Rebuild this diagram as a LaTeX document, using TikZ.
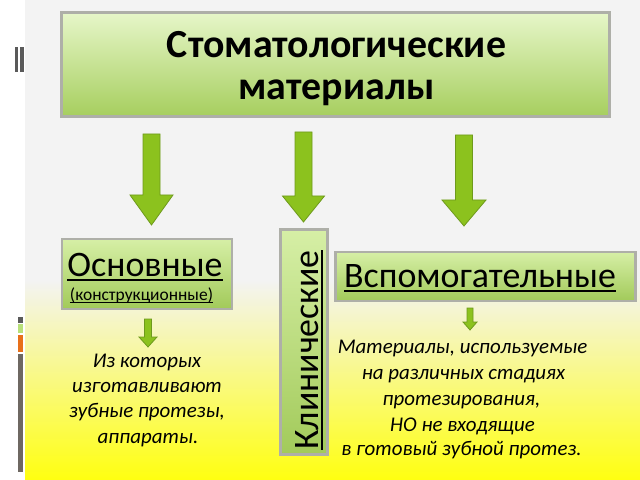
\documentclass[tikz,border=0pt]{standalone}
\usepackage{fontspec}
\setmainfont{Carlito}
\definecolor{bggray}{HTML}{F3F3F3}
\definecolor{ylw}{HTML}{FFFF10}
\definecolor{arrfill}{HTML}{8CC21E}
\definecolor{arrline}{HTML}{6E9A1C}
\definecolor{boxtop}{HTML}{E6F6C8}
\definecolor{boxbot}{HTML}{A6CE5E}
\definecolor{sboxtop}{HTML}{D6EFA6}
\definecolor{sboxbot}{HTML}{A2CA5A}
\definecolor{shadowgray}{HTML}{AEAFA8}
\definecolor{decdark}{HTML}{5A5A5A}
\definecolor{decgreen}{HTML}{B8E07A}
\definecolor{decorange}{HTML}{E8701A}
\definecolor{decgray}{HTML}{6E6862}
\newcommand\myul[3]{\setbox0\hbox{#3}\rlap{\vrule height -#1 depth \dimexpr#1+#2\relax width \wd0}\box0}
\newcommand\garrow[6]{\filldraw[garrowstyle] (#1-#5,#2) -- (#1+#5,#2) -- (#1+#5,#3) -- (#1+#6,#3) -- (#1,#4) -- (#1-#6,#3) -- (#1-#5,#3) -- cycle;}
\tikzset{
  garrowstyle/.style={fill=arrfill, draw=arrline, line width=0.8bp, line join=miter},
  bigbox/.style={draw=shadowgray, line width=3bp, top color=boxtop, bottom color=boxbot, inner sep=0pt},
  smallbox/.style={draw=shadowgray, line width=2.5bp, top color=sboxtop, bottom color=sboxbot, inner sep=0pt},
  titletext/.style={font=\fontsize{40}{46}\selectfont\bfseries, inner sep=0pt, anchor=base},
  bigtext/.style={font=\fontsize{36}{42}\selectfont, inner sep=0pt, anchor=base},
  smalltext/.style={font=\fontsize{17.5}{21}\selectfont, inner sep=0pt, anchor=base},
  ittext/.style={font=\fontsize{21}{25}\selectfont\itshape, inner sep=0pt, anchor=base}
}
\begin{document}
\begin{tikzpicture}[x=1bp,y=-1bp]
\useasboundingbox (0,0) rectangle (640,480);
% background
\fill[white] (0,0) rectangle (640,480);
\fill[bggray] (25,0) rectangle (640,280);
\shade[top color=bggray, bottom color=ylw] (25,280) rectangle (640,480);
% left decorations
\fill[decdark] (15,47) rectangle (18,72);
\fill[decdark] (20,47) rectangle (24,72);
\fill[decdark] (18,317) rectangle (23,323);
\fill[decgreen] (18,324) rectangle (23,333);
\fill[decorange] (18,335) rectangle (23,352);
\fill[decgray] (18,354) rectangle (23,472);
% boxes
\node[bigbox, minimum width=547bp, minimum height=104bp] (tbox) at (335.5,65) {};
\node[smallbox, minimum width=170bp, minimum height=70bp] (obox) at (147,274) {};
\node[smallbox, minimum width=47bp, minimum height=225bp] (kbox) at (304,342) {};
\node[smallbox, minimum width=300bp, minimum height=49bp] (vbox) at (485.5,276.5) {};
% title
\node[titletext] (t1) at (336.5,58) {Стоматологические};
\node[titletext] (t2) at (336.5,100) {материалы};
% arrows
\garrow{151.5}{134}{195}{225}{8.5}{21.5}
\garrow{303.5}{132}{196}{222}{8.5}{21}
\garrow{464}{135}{200}{226}{8.5}{22}
\garrow{148}{319}{337}{347}{3.5}{9}
\garrow{470}{308}{322}{330}{3}{7}
% box texts
\node[bigtext] (osn) at (145,276.5) {\myul{2.5bp}{2.2bp}{Основные}};
\node[smalltext] (kon) at (141.5,300) {\myul{1.5bp}{1.3bp}{(конструкционные)}};
\node[bigtext, rotate=90] (kli) at (318,350) {\myul{3bp}{2.2bp}{Клинические}};
\node[bigtext] (vsp) at (480,287) {\myul{3bp}{2.2bp}{Вспомогательные}};
% italic texts left
\node[ittext] (l1) at (147,367) {Из которых};
\node[ittext] (l2) at (147,392) {изготавливают};
\node[ittext] (l3) at (147,417) {зубные протезы,};
\node[ittext] (l4) at (148,443) {аппараты.};
% italic texts right
\node[ittext] (r1) at (462.5,353) {Материалы, используемые};
\node[ittext] (r2) at (463.5,379) {на различных стадиях};
\node[ittext] (r3) at (461.5,405) {протезирования,};
\node[ittext] (r4) at (462.5,431) {НО не входящие};
\node[ittext] (r5) at (461.5,455) {в готовый зубной протез.};
\end{tikzpicture}
\end{document}
